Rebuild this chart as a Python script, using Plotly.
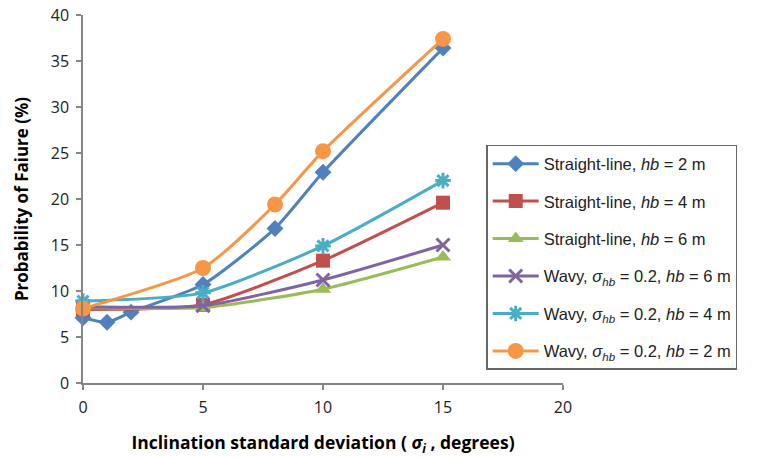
import plotly.graph_objects as go

x_sl2 = [0, 1, 2, 5, 8, 10, 15]
y_sl2 = [7.1, 6.6, 7.7, 10.7, 16.8, 22.9, 36.4]
x_std = [0, 5, 10, 15]
y_sl4 = [8.0, 8.5, 13.3, 19.6]
y_sl6 = [8.2, 8.2, 10.2, 13.7]
y_wv6 = [8.3, 8.4, 11.2, 15.0]
y_wv4 = [8.9, 9.8, 14.9, 22.0]
x_wv2 = [0, 5, 8, 10, 15]
y_wv2 = [8.1, 12.5, 19.4, 25.2, 37.4]

names = [
    "Straight-line, <i>hb</i> = 2 m",
    "Straight-line, <i>hb</i> = 4 m",
    "Straight-line, <i>hb</i> = 6 m",
    "Wavy, <i>σ<sub>hb</sub></i> = 0.2, <i>hb</i> = 6 m",
    "Wavy, <i>σ<sub>hb</sub></i> = 0.2, <i>hb</i> = 4 m",
    "Wavy, <i>σ<sub>hb</sub></i> = 0.2, <i>hb</i> = 2 m",
]
colors = ["#4F81BD", "#C0504D", "#9BBB59", "#8064A2", "#4BACC6", "#F79646"]
series = [
    (x_sl2, y_sl2, "diamond", 13, 0),
    (x_std, y_sl4, "square", 14, 0),
    (x_std, y_sl6, "triangle-up", 14, 0),
    (x_std, y_wv6, "x-thin-open", 13, 3),
    (x_std, y_wv4, "asterisk-open", 13, 3),
    (x_wv2, y_wv2, "circle", 16, 0),
]

fig = go.Figure()
for i, (xs, ys, sym, sz, lw) in enumerate(series):
    c = colors[i]
    fig.add_trace(go.Scatter(
        x=xs, y=ys, name=names[i], mode="lines+markers",
        line=dict(color=c, width=3, shape="spline", smoothing=0.6),
        marker=dict(symbol=sym, size=sz, color=c, line=dict(color=c, width=lw)),
        legendgroup=f"g{i}", cliponaxis=False,
    ))

axis_common = dict(
    showgrid=False, zeroline=False, showline=True, linecolor="#868686", linewidth=1.5,
    ticks="outside", ticklen=5, tickcolor="#868686", tickwidth=1.5, automargin=False,
    ticklabelstandoff=4, ticklabeloverflow="allow",
    tickfont=dict(family="Open Sans, Liberation Sans, sans-serif", size=16, color="#222"),
)
# the page body adds an 8px offset, so the figure is sized 758x449
fig.update_layout(
    width=758, height=449,
    margin=dict(l=75, r=203, t=7, b=74),
    paper_bgcolor="white", plot_bgcolor="white",
    xaxis=dict(range=[0, 20], dtick=5, **axis_common,
               title=dict(text="<b>Inclination standard deviation ( <i>σ<sub>i</sub></i> , degrees)</b>",
                          font=dict(family="Open Sans, Liberation Sans, sans-serif", size=17.5, color="black"),
                          standoff=20)),
    yaxis=dict(range=[0, 40], dtick=5, **axis_common,
               title=dict(text="<b>Probability of Faiure (%)</b>",
                          font=dict(family="Open Sans, Liberation Sans, sans-serif", size=17, color="black"),
                          standoff=18)),
    legend=dict(x=0.84, y=0.647, xanchor="left", yanchor="top",
                bordercolor="#666", borderwidth=1.5, bgcolor="white",
                font=dict(family="Liberation Sans, Arial, sans-serif", size=16.5, color="#222"),
                tracegroupgap=13, itemwidth=46),
    showlegend=True,
)
fig.write_html("out.html")
